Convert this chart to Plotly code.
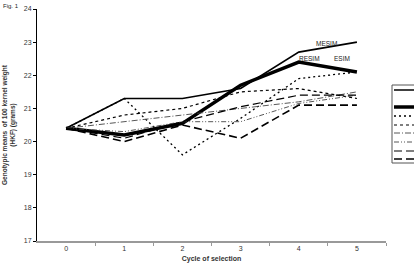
import plotly.graph_objects as go

cycles = [0, 1, 2, 3, 4, 5]
cycle_labels = ["0", "1", "2", "3", "4", "5"]

mesim = [20.4, 21.3, 21.3, 21.6, 22.7, 23.0]
esim = [20.4, 20.2, 20.55, 21.7, 22.4, 22.1]
s3 = [20.4, 21.3, 19.6, 20.7, 21.9, 22.1]
s4 = [20.4, 20.8, 21.0, 21.5, 21.6, 21.3]
s5 = [20.4, 20.6, 20.8, 21.0, 21.2, 21.5]
s6 = [20.4, 20.3, 20.6, 20.6, 21.15, 21.4]
s7 = [20.4, 20.1, 20.6, 21.05, 21.4, 21.4]
s8 = [20.4, 20.0, 20.5, 20.1, 21.1, 21.1]

series = [mesim, esim, s3, s4, s5, s6, s7, s8]
styles = [
    dict(width=1.6, dash="solid", color="black"),
    dict(width=3.5, dash="solid", color="black"),
    dict(width=1.3, dash="2px,3px", color="black"),
    dict(width=1.2, dash="3px,3px", color="black"),
    dict(width=0.9, dash="6px,2px,1px,2px", color="#444"),
    dict(width=0.9, dash="5px,2px,1px,2px,1px,2px", color="#444"),
    dict(width=1.2, dash="8px,4px", color="black"),
    dict(width=1.6, dash="8px,4px", color="black"),
]

font = "Arial, Liberation Sans, sans-serif"
fig = go.Figure()
for vals, st in zip(series, styles):
    fig.add_trace(go.Scatter(x=cycles, y=vals, mode="lines", line=st, showlegend=False, hoverinfo="skip"))

# label annotations
labels = [("MESIM", 4.48, 22.97), ("RESIM", 4.19, 22.52), ("ESIM", 4.74, 22.52)]
for t, x, y in labels:
    fig.add_annotation(x=x, y=y, text=t, showarrow=False, font=dict(family=font, size=6.5, color="#222"))

fig.add_annotation(x=0, y=1, xref="paper", yref="paper", text="Fig. 1", showarrow=False,
                   xanchor="left", yanchor="top", xshift=-36, yshift=8,
                   font=dict(family=font, size=6, color="#222"))

# legend box (manual, entries cut off at the right edge)
L, R, T, B = 37, 386, 9, 241
def px(x):
    return (x - L) / (R - L)
def py(y):
    return (B - y) / (B - T)
fig.add_shape(type="rect", xref="paper", yref="paper", x0=px(392), x1=px(430), y0=py(163), y1=py(85),
              line=dict(color="#555", width=1), fillcolor="white")
rows = [90, 107, 116, 125, 133, 142, 151, 159]
for r, st in zip(rows, styles):
    fig.add_shape(type="line", xref="paper", yref="paper", x0=px(394), x1=px(430), y0=py(r), y1=py(r),
                  line=dict(color=st["color"], width=st["width"], dash=st["dash"]))

fig.update_layout(
    width=414, height=269,
    margin=dict(l=L, r=414 - R, t=T, b=269 - B, autoexpand=False),
    paper_bgcolor="white", plot_bgcolor="white",
    font=dict(family=font, size=7, color="#333"),
)
fig.update_xaxes(
    range=[-0.5, 5.5], tickvals=cycles, ticktext=cycle_labels, ticks="",
    showgrid=False, zeroline=False, showline=True, linecolor="#999", linewidth=2,
    tickfont=dict(size=7, color="#333"),
    minor=dict(tickvals=[c + 0.5 for c in cycles], ticks="outside", ticklen=3, tickcolor="#999", showgrid=False),
    title=dict(text="<b>Cycle of selection</b>", font=dict(size=7, color="#333"), standoff=5),
)
fig.update_yaxes(
    range=[17, 24], dtick=1, ticks="outside", ticklen=3, tickcolor="black",
    showgrid=False, zeroline=False, showline=True, linecolor="black", linewidth=1,
    tickfont=dict(size=7, color="#333"),
    title=dict(text="<b>Genotypic means  of 100 kernel weight<br>(HKF) (grams)</b>", font=dict(size=6.5, color="#333"), standoff=7),
)

fig.write_html("out.html")
